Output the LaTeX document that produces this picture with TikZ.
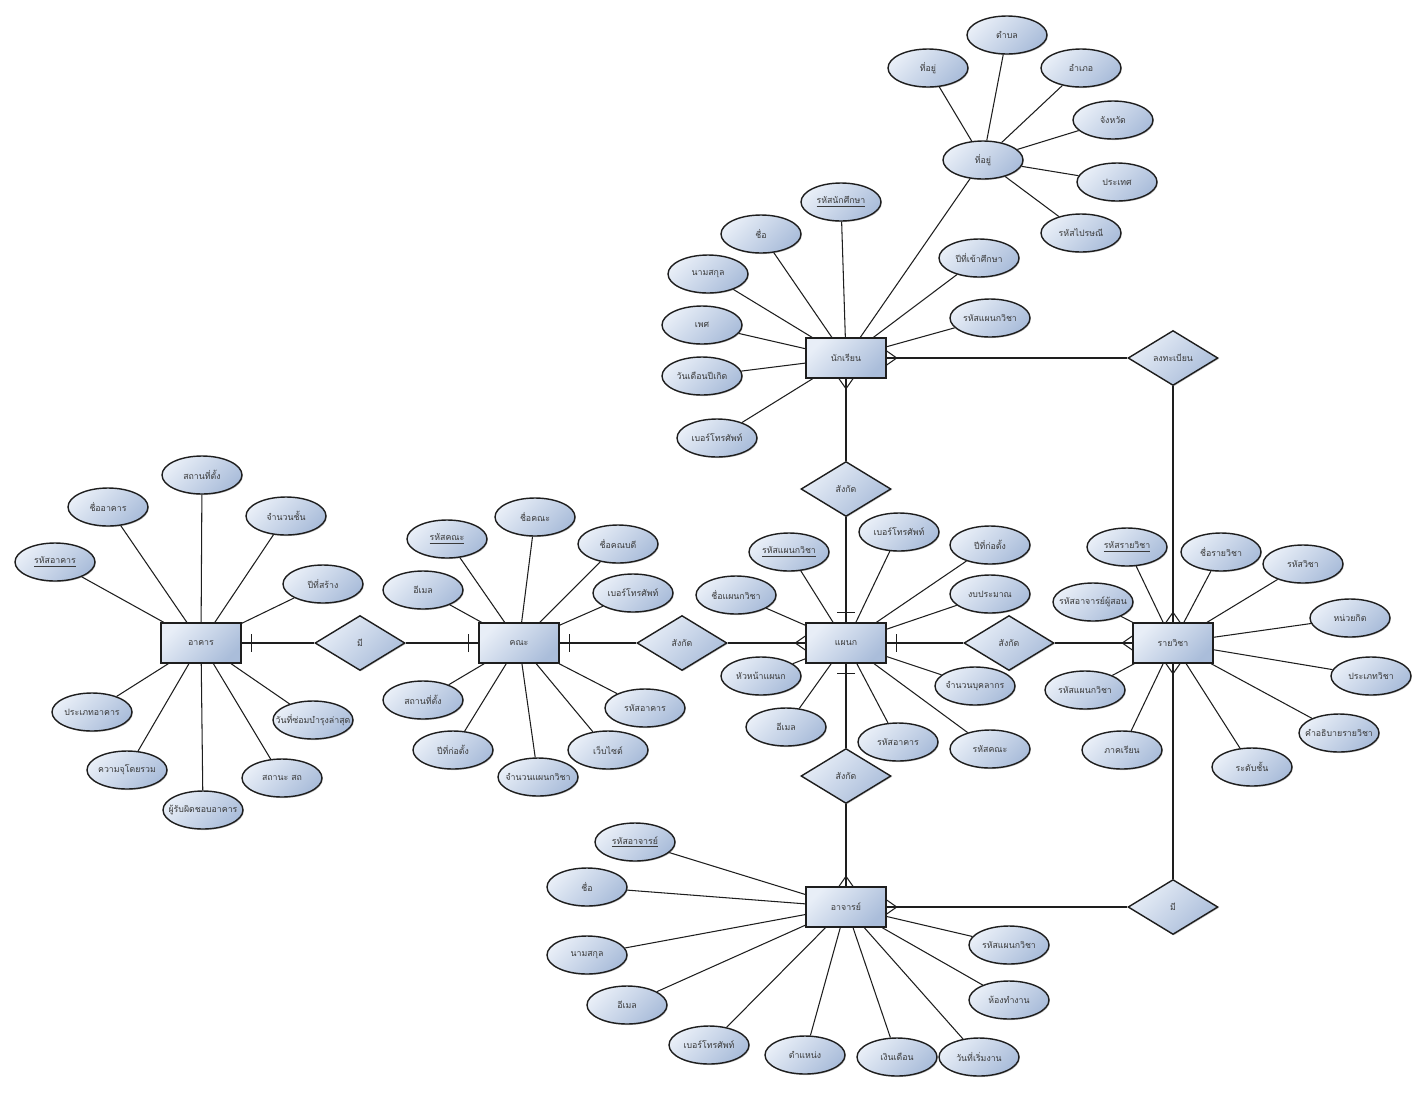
\documentclass[tikz,border=0pt]{standalone}
\usepackage{fontspec}
\usepackage{tikz}
\usetikzlibrary{shapes.geometric, calc, shadows}
\newfontfamily\thaifont[Script=Thai]{Loma}
\newcommand{\erfont}{\thaifont\fontsize{5}{6}\selectfont}
\definecolor{shapeLight}{HTML}{E8EEF7}
\definecolor{shapeDark}{HTML}{AABDDA}
\definecolor{lineGray}{HTML}{1E1E1E}
\definecolor{textGray}{HTML}{3A3A3A}
\tikzstyle{fixtext} = [execute at begin node={\hbox to 0pt\bgroup\hss}, execute at end node={\hss\egroup}]
\tikzstyle{shaded} = [draw=lineGray, line width=0.8pt, top color=shapeLight, bottom color=shapeDark, shading angle=45, drop shadow={shadow xshift=0.5pt, shadow yshift=-0.6pt, opacity=0.45}, font=\erfont, text=textGray, fixtext]
\tikzstyle{entity} = [shaded, rectangle, minimum width=1.6cm, minimum height=0.8cm]
\tikzstyle{attr} = [shaded, ellipse, minimum width=1.6cm, minimum height=0.76cm]
\tikzstyle{relation} = [shaded, diamond, minimum width=1.8cm, minimum height=1.1cm]
\tikzset{
	crowfoot/.pic = {\draw (0,-7) -- (10,0) -- (0,7);},
	onebar/.pic = {\draw (10,-9) -- (10,9);},
}

\begin{document}
\begin{tikzpicture}[x=0.02cm, y=-0.02cm, line width=0.6pt, draw=lineGray]
	\useasboundingbox (0,0) rectangle (1427,1093);
	% entities
	\node (Student) [entity] at (846,358) {นักเรียน};
	\node (Dept) [entity] at (846,643) {แผนก};
	\node (Faculty) [entity] at (519,643) {คณะ};
	\node (Building) [entity] at (201,643) {อาคาร};
	\node (Subject) [entity] at (1173,643) {รายวิชา};
	\node (Teacher) [entity] at (846,907) {อาจารย์};
	% relations
	\node (HasFaculty) [relation] at (360,643) {มี};
	\node (FacultyDept) [relation] at (682,643) {สังกัด};
	\node (StudentDept) [relation] at (846,489) {สังกัด};
	\node (TeacherDept) [relation] at (846,776) {สังกัด};
	\node (SubjectDept) [relation] at (1009,643) {สังกัด};
	\node (Register) [relation] at (1173,358) {ลงทะเบียน};
	\node (Teach) [relation] at (1173,907) {มี};

	% student
	\node (Address) [attr] at (983,160) {ที่อยู่};
	\node (AddrLine) [attr] at (928,68) {ที่อยู่};
	\node (SubDistrict) [attr] at (1007,35) {ตำบล};
	\node (District) [attr] at (1081,68) {อำเภอ};
	\node (Province) [attr] at (1113,120) {จังหวัด};
	\node (Country) [attr] at (1117,182) {ประเทศ};
	\node (PostCode) [attr] at (1081,233) {รหัสไปรษณี};
	\node (StudentId) [attr] at (841,202) {\underline{รหัสนักศึกษา}};
	\node (StudentName) [attr] at (761,234) {ชื่อ};
	\node (StudentSurname) [attr] at (708,274) {นามสกุล};
	\node (StudentSex) [attr] at (702,325) {เพศ};
	\node (StudentBirth) [attr] at (702,376) {วันเดือนปีเกิด};
	\node (StudentPhone) [attr] at (717,438) {เบอร์โทรศัพท์};
	\node (StudentYear) [attr] at (979,258) {ปีที่เข้าศึกษา};
	\node (StudentDeptId) [attr] at (990,318) {รหัสแผนกวิชา};

	% building
	\node (BuildingPlace) [attr] at (202,475) {สถานที่ตั้ง};
	\node (BuildingName) [attr] at (108,507) {ชื่ออาคาร};
	\node (BuildingFloors) [attr] at (286,516) {จำนวนชั้น};
	\node (BuildingId) [attr] at (55,562) {\underline{รหัสอาคาร}};
	\node (BuildingYear) [attr] at (323,584) {ปีที่สร้าง};
	\node (BuildingType) [attr] at (92,712) {ประเภทอาคาร};
	\node (BuildingRepair) [attr] at (313,720) {วันที่ซ่อมบำรุงล่าสุด};
	\node (BuildingCapacity) [attr] at (127,770) {ความจุโดยรวม};
	\node (BuildingStatus) [attr] at (282,778) {สถานะ สถ};
	\node (BuildingOwner) [attr] at (203,810) {ผู้รับผิดชอบอาคาร};

	% faculty
	\node (FacultyName) [attr] at (535,517) {ชื่อคณะ};
	\node (FacultyId) [attr] at (447,539) {\underline{รหัสคณะ}};
	\node (FacultyDean) [attr] at (618,544) {ชื่อคณบดี};
	\node (FacultyMail) [attr] at (423,590) {อีเมล};
	\node (FacultyPhone) [attr] at (633,593) {เบอร์โทรศัพท์};
	\node (FacultyPlace) [attr] at (423,700) {สถานที่ตั้ง};
	\node (FacultyBuilding) [attr] at (645,708) {รหัสอาคาร};
	\node (FacultyYear) [attr] at (453,750) {ปีที่ก่อตั้ง};
	\node (FacultyWeb) [attr] at (608,750) {เว็บไซต์};
	\node (FacultyDepts) [attr] at (538,777) {จำนวนแผนกวิชา};

	% department
	\node (DeptPhone) [attr] at (899,532) {เบอร์โทรศัพท์};
	\node (DeptId) [attr] at (789,552) {\underline{รหัสแผนกวิชา}};
	\node (DeptYear) [attr] at (990,545) {ปีที่ก่อตั้ง};
	\node (DeptName) [attr] at (736,595) {ชื่อแผนกวิชา};
	\node (DeptBudget) [attr] at (990,594) {งบประมาณ};
	\node (DeptHead) [attr] at (761,676) {หัวหน้าแผนก};
	\node (DeptStaff) [attr] at (975,686) {จำนวนบุคลากร};
	\node (DeptMail) [attr] at (786,727) {อีเมล};
	\node (DeptBuilding) [attr] at (898,742) {รหัสอาคาร};
	\node (DeptFaculty) [attr] at (990,749) {รหัสคณะ};

	% subject
	\node (SubjectId) [attr] at (1127,547) {\underline{รหัสรายวิชา}};
	\node (SubjectName) [attr] at (1221,552) {ชื่อรายวิชา};
	\node (SubjectCode) [attr] at (1303,564) {รหัสวิชา};
	\node (SubjectTeacher) [attr] at (1093,602) {รหัสอาจารย์ผู้สอน};
	\node (SubjectCredit) [attr] at (1350,618) {หน่วยกิต};
	\node (SubjectDeptId) [attr] at (1085,690) {รหัสแผนกวิชา};
	\node (SubjectType) [attr] at (1371,676) {ประเภทวิชา};
	\node (SubjectDesc) [attr] at (1339,733) {คำอธิบายรายวิชา};
	\node (SubjectTerm) [attr] at (1122,750) {ภาคเรียน};
	\node (SubjectLevel) [attr] at (1252,767) {ระดับชั้น};

	% teacher
	\node (TeacherId) [attr] at (635,842) {\underline{รหัสอาจารย์}};
	\node (TeacherName) [attr] at (587,887) {ชื่อ};
	\node (TeacherSurname) [attr] at (587,955) {นามสกุล};
	\node (TeacherMail) [attr] at (627,1005) {อีเมล};
	\node (TeacherPhone) [attr] at (709,1045) {เบอร์โทรศัพท์};
	\node (TeacherPosition) [attr] at (805,1055) {ตำแหน่ง};
	\node (TeacherSalary) [attr] at (897,1057) {เงินเดือน};
	\node (TeacherStart) [attr] at (979,1057) {วันที่เริ่มงาน};
	\node (TeacherRoom) [attr] at (1009,1000) {ห้องทำงาน};
	\node (TeacherDeptId) [attr] at (1009,945) {รหัสแผนกวิชา};

	% attribute lines
	\draw (Address) edge (AddrLine) edge (SubDistrict) edge (District) edge (Province) edge (Country) edge (PostCode);
	\draw (Student) edge (Address) edge (StudentId) edge (StudentName) edge (StudentSurname) edge (StudentSex) edge (StudentBirth) edge (StudentPhone) edge (StudentYear) edge (StudentDeptId);
	\draw (Building) edge (BuildingPlace) edge (BuildingName) edge (BuildingFloors) edge (BuildingId) edge (BuildingYear) edge (BuildingType) edge (BuildingRepair) edge (BuildingCapacity) edge (BuildingStatus) edge (BuildingOwner);
	\draw (Faculty) edge (FacultyName) edge (FacultyId) edge (FacultyDean) edge (FacultyMail) edge (FacultyPhone) edge (FacultyPlace) edge (FacultyBuilding) edge (FacultyYear) edge (FacultyWeb) edge (FacultyDepts);
	\draw (Dept) edge (DeptPhone) edge (DeptId) edge (DeptYear) edge (DeptName) edge (DeptBudget) edge (DeptHead) edge (DeptStaff) edge (DeptMail) edge (DeptBuilding) edge (DeptFaculty);
	\draw (Subject) edge (SubjectId) edge (SubjectName) edge (SubjectCode) edge (SubjectTeacher) edge (SubjectCredit) edge (SubjectDeptId) edge (SubjectType) edge (SubjectDesc) edge (SubjectTerm) edge (SubjectLevel);
	\draw (Teacher) edge (TeacherId) edge (TeacherName) edge (TeacherSurname) edge (TeacherMail) edge (TeacherPhone) edge (TeacherPosition) edge (TeacherSalary) edge (TeacherStart) edge (TeacherRoom) edge (TeacherDeptId);

	% relationship lines
	\draw (Building) -- (HasFaculty);
	\draw (HasFaculty) -- (Faculty);
	\draw (Faculty) -- (FacultyDept);
	\draw (FacultyDept) -- (Dept);
	\draw (Student) -- (StudentDept);
	\draw (StudentDept) -- (Dept);
	\draw (Dept) -- (TeacherDept);
	\draw (TeacherDept) -- (Teacher);
	\draw (Dept) -- (SubjectDept);
	\draw (SubjectDept) -- (Subject);
	\draw (Student) -- (Register);
	\draw (Register) -- (Subject);
	\draw (Teacher) -- (Teach);
	\draw (Teach) -- (Subject);

	% cardinality marks
	\pic at (Building.east) {onebar};
	\pic [rotate=180] at (Faculty.west) {onebar};
	\pic at (Faculty.east) {onebar};
	\pic [rotate=180] at (Dept.west) {crowfoot};
	\pic [rotate=90] at (Dept.north) {onebar};
	\pic [rotate=-90] at (Dept.south) {onebar};
	\pic at (Dept.east) {onebar};
	\pic at (Student.east) {crowfoot};
	\pic [rotate=-90] at (Student.south) {crowfoot};
	\pic [rotate=90] at (Teacher.north) {crowfoot};
	\pic at (Teacher.east) {crowfoot};
	\pic [rotate=90] at (Subject.north) {crowfoot};
	\pic [rotate=-90] at (Subject.south) {crowfoot};
	\pic [rotate=180] at (Subject.west) {crowfoot};
\end{tikzpicture}
\end{document}
